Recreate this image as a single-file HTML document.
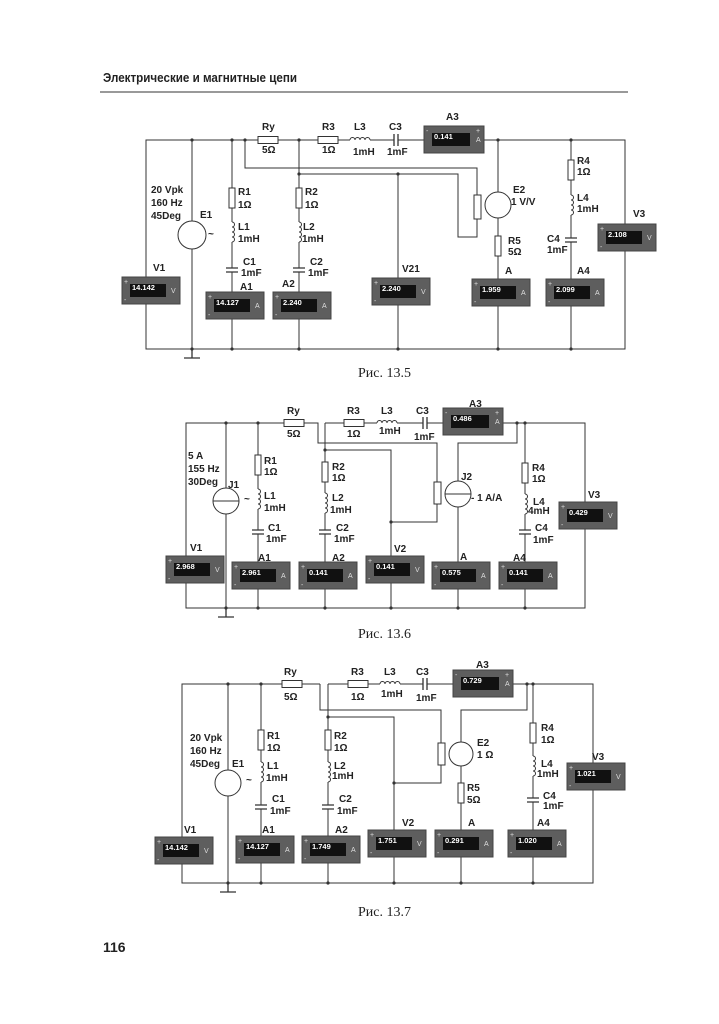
<!DOCTYPE html>
<html><head><meta charset="utf-8"><style>
html,body{margin:0;padding:0;background:#fff;}
svg{display:block;}
.w{fill:none;stroke:#333;stroke-width:1;}
.t{font-family:"Liberation Sans",sans-serif;font-weight:bold;font-size:10px;fill:#222;}
.m{font-family:"Liberation Sans",sans-serif;font-weight:bold;font-size:7.5px;fill:#fff;}
.s{font-family:"Liberation Sans",sans-serif;font-size:7px;fill:#ddd;}
.cap{font-family:"Liberation Serif",serif;font-size:14px;fill:#222;}
</style></head><body>
<svg width="719" height="1024" viewBox="0 0 719 1024" xmlns="http://www.w3.org/2000/svg">
<defs>
<g id="rv"><rect x="-3" y="-10" width="6" height="20" fill="#fff" stroke="#333"/></g>
<g id="rh"><rect x="-10" y="-3.5" width="20" height="7" fill="#fff" stroke="#333"/></g>
<g id="iv"><rect x="-3" y="-10" width="6" height="20" fill="#fff"/><path d="M0,-10 a2.5,2.5 0 0 1 0,5 a2.5,2.5 0 0 1 0,5 a2.5,2.5 0 0 1 0,5 a2.5,2.5 0 0 1 0,5" fill="none" stroke="#333"/></g>
<g id="ih"><rect x="-10" y="-3" width="20" height="6" fill="#fff"/><path d="M-10,0 a2.5,2.5 0 0 1 5,0 a2.5,2.5 0 0 1 5,0 a2.5,2.5 0 0 1 5,0 a2.5,2.5 0 0 1 5,0" fill="none" stroke="#333"/></g>
<g id="cv"><rect x="-6" y="-2" width="12" height="4" fill="#fff"/><path d="M-6,-2H6M-6,2H6" stroke="#333" stroke-width="1.3"/></g>
<g id="ch"><rect x="-2" y="-6" width="4" height="12" fill="#fff"/><path d="M-2,-6V6M2,-6V6" stroke="#333" stroke-width="1.3"/></g>
<g id="d"><circle r="1.6" fill="#333"/></g>
<g id="gnd"><path d="M0,0V9M-8,9H8" stroke="#333" stroke-width="1.3" fill="none"/></g>
<g id="mbV"><rect width="58" height="27" fill="#5e5e5e" stroke="#444"/><rect x="8" y="7" width="36" height="13" fill="#111"/><text class="s" x="2" y="7">+</text><text class="s" x="2" y="25">-</text><text class="s" x="49" y="16">V</text></g>
<g id="mbA"><rect width="58" height="27" fill="#5e5e5e" stroke="#444"/><rect x="8" y="7" width="36" height="13" fill="#111"/><text class="s" x="2" y="7">+</text><text class="s" x="2" y="25">-</text><text class="s" x="49" y="16">A</text></g>
<g id="mbA3"><rect width="60" height="27" fill="#5e5e5e" stroke="#444"/><rect x="8" y="7" width="38" height="13" fill="#111"/><text class="s" x="2" y="7">-</text><text class="s" x="52" y="7">+</text><text class="s" x="52" y="16">A</text></g>
</defs>

<text x="103" y="82" font-family="Liberation Sans,sans-serif" font-weight="bold" font-size="13" textLength="194" lengthAdjust="spacingAndGlyphs" fill="#222">Электрические и магнитные цепи</text>
<line x1="100" y1="92" x2="628" y2="92" stroke="#333"/>

<!-- ============ Circuit 1 ============ -->
<path class="w" d="M146,140H625V349H146Z"/>
<path class="w" d="M192,140V349M232,140V349M299,140V349M498,140V349M571,140V349M398,174V349"/>
<path class="w" d="M245,140V168H477V195M477,219V237H458V174H299"/>
<rect x="474" y="195" width="7" height="24" fill="#fff" stroke="#333"/>
<circle cx="192" cy="235" r="14" fill="#fff" stroke="#333"/>
<use href="#rv" x="232" y="198"/><use href="#iv" x="232" y="232"/><use href="#cv" x="232" y="270"/>
<use href="#rv" x="299" y="198"/><use href="#iv" x="299" y="232"/><use href="#cv" x="299" y="270"/>
<use href="#rh" x="268" y="140"/><use href="#rh" x="328" y="140"/><use href="#ih" x="360" y="140"/><use href="#ch" x="396" y="140"/>
<circle cx="498" cy="205" r="13" fill="#fff" stroke="#333"/>
<use href="#rv" x="498" y="246"/>
<use href="#rv" x="571" y="170"/><use href="#iv" x="571" y="205"/><use href="#cv" x="571" y="240"/>
<use href="#d" x="192" y="140"/><use href="#d" x="232" y="140"/><use href="#d" x="245" y="140"/><use href="#d" x="299" y="140"/><use href="#d" x="498" y="140"/><use href="#d" x="571" y="140"/>
<use href="#d" x="299" y="174"/><use href="#d" x="398" y="174"/>
<use href="#d" x="192" y="349"/><use href="#d" x="232" y="349"/><use href="#d" x="299" y="349"/><use href="#d" x="398" y="349"/><use href="#d" x="498" y="349"/><use href="#d" x="571" y="349"/>
<use href="#gnd" x="192" y="349"/>
<text class="t" x="262" y="130">Ry</text><text class="t" x="262" y="153">5Ω</text>
<text class="t" x="322" y="130">R3</text><text class="t" x="322" y="153">1Ω</text>
<text class="t" x="354" y="130">L3</text><text class="t" x="353" y="155">1mH</text>
<text class="t" x="389" y="130">C3</text><text class="t" x="387" y="155">1mF</text>
<text class="t" x="446" y="120">A3</text>
<text class="t" x="151" y="193">20 Vpk</text><text class="t" x="151" y="206">160 Hz</text><text class="t" x="151" y="219">45Deg</text>
<text class="t" x="200" y="218">E1</text><text class="t" x="208" y="237">~</text>
<text class="t" x="238" y="195">R1</text><text class="t" x="238" y="208">1Ω</text>
<text class="t" x="238" y="230">L1</text><text class="t" x="238" y="242">1mH</text>
<text class="t" x="243" y="265">C1</text><text class="t" x="241" y="276">1mF</text>
<text class="t" x="240" y="290">A1</text>
<text class="t" x="305" y="195">R2</text><text class="t" x="305" y="208">1Ω</text>
<text class="t" x="303" y="230">L2</text><text class="t" x="302" y="242">1mH</text>
<text class="t" x="310" y="265">C2</text><text class="t" x="308" y="276">1mF</text>
<text class="t" x="282" y="287">A2</text>
<text class="t" x="402" y="272">V21</text>
<text class="t" x="513" y="193">E2</text><text class="t" x="511" y="205">1 V/V</text>
<text class="t" x="508" y="244">R5</text><text class="t" x="508" y="255">5Ω</text>
<text class="t" x="505" y="274">A</text>
<text class="t" x="577" y="164">R4</text><text class="t" x="577" y="175">1Ω</text>
<text class="t" x="577" y="201">L4</text><text class="t" x="577" y="212">1mH</text>
<text class="t" x="547" y="242">C4</text><text class="t" x="547" y="253">1mF</text>
<text class="t" x="577" y="274">A4</text>
<text class="t" x="633" y="217">V3</text>
<text class="t" x="153" y="271">V1</text>
<use href="#mbV" x="122" y="277"/><text class="m" x="132" y="290">14.142</text>
<use href="#mbA" x="206" y="292"/><text class="m" x="216" y="305">14.127</text>
<use href="#mbA" x="273" y="292"/><text class="m" x="283" y="305">2.240</text>
<use href="#mbV" x="372" y="278"/><text class="m" x="382" y="291">2.240</text>
<use href="#mbA" x="472" y="279"/><text class="m" x="482" y="292">1.959</text>
<use href="#mbA" x="546" y="279"/><text class="m" x="556" y="292">2.099</text>
<use href="#mbV" x="598" y="224"/><text class="m" x="608" y="237">2.108</text>
<use href="#mbA3" x="424" y="126"/><text class="m" x="434" y="139">0.141</text>
<text class="cap" x="358" y="377">Рис. 13.5</text>

<!-- ============ Circuit 2 ============ -->
<path class="w" d="M312,423H186V608H585V423H325"/>
<path class="w" d="M226,423V608M258,423V608M325,423V608M525,423V608M325,450H391V608"/>
<path class="w" d="M312,423H318V443H437V482M437,504V522H391"/>
<path class="w" d="M517,423V443H458V608"/>
<rect x="434" y="482" width="7" height="22" fill="#fff" stroke="#333"/>
<circle cx="226" cy="501" r="13" fill="#fff" stroke="#333"/><line x1="213" y1="501" x2="239" y2="501" stroke="#333"/>
<circle cx="458" cy="494" r="13" fill="#fff" stroke="#333"/><line x1="445" y1="494" x2="471" y2="494" stroke="#333"/>
<use href="#rh" x="294" y="423"/>
<use href="#rv" x="258" y="465"/><use href="#iv" x="258" y="499"/><use href="#cv" x="258" y="532"/>
<use href="#rv" x="325" y="472"/><use href="#iv" x="325" y="503"/><use href="#cv" x="325" y="532"/>
<use href="#rh" x="354" y="423"/><use href="#ih" x="387" y="423"/><use href="#ch" x="425" y="423"/>
<use href="#rv" x="525" y="473"/><use href="#iv" x="525" y="504"/><use href="#cv" x="525" y="532"/>
<use href="#d" x="226" y="423"/><use href="#d" x="258" y="423"/><use href="#d" x="517" y="423"/><use href="#d" x="525" y="423"/><use href="#d" x="325" y="450"/><use href="#d" x="391" y="522"/>
<use href="#d" x="226" y="608"/><use href="#d" x="258" y="608"/><use href="#d" x="325" y="608"/><use href="#d" x="391" y="608"/><use href="#d" x="458" y="608"/><use href="#d" x="525" y="608"/>
<use href="#gnd" x="226" y="608"/>
<text class="t" x="287" y="414">Ry</text><text class="t" x="287" y="437">5Ω</text>
<text class="t" x="347" y="414">R3</text><text class="t" x="347" y="437">1Ω</text>
<text class="t" x="381" y="414">L3</text><text class="t" x="379" y="434">1mH</text>
<text class="t" x="416" y="414">C3</text><text class="t" x="414" y="440">1mF</text>
<text class="t" x="469" y="407">A3</text>
<text class="t" x="188" y="459">5 A</text><text class="t" x="188" y="472">155 Hz</text><text class="t" x="188" y="485">30Deg</text>
<text class="t" x="228" y="488">J1</text><text class="t" x="244" y="502">~</text>
<text class="t" x="264" y="464">R1</text><text class="t" x="264" y="475">1Ω</text>
<text class="t" x="264" y="499">L1</text><text class="t" x="264" y="511">1mH</text>
<text class="t" x="268" y="531">C1</text><text class="t" x="266" y="542">1mF</text>
<text class="t" x="258" y="561">A1</text>
<text class="t" x="332" y="470">R2</text><text class="t" x="332" y="481">1Ω</text>
<text class="t" x="332" y="501">L2</text><text class="t" x="330" y="513">1mH</text>
<text class="t" x="336" y="531">C2</text><text class="t" x="334" y="542">1mF</text>
<text class="t" x="332" y="561">A2</text>
<text class="t" x="394" y="552">V2</text>
<text class="t" x="461" y="480">J2</text><text class="t" x="471" y="501">- 1 A/A</text>
<text class="t" x="460" y="560">A</text>
<text class="t" x="532" y="471">R4</text><text class="t" x="532" y="482">1Ω</text>
<text class="t" x="533" y="505">L4</text><text class="t" x="528" y="514">4mH</text>
<text class="t" x="535" y="531">C4</text><text class="t" x="533" y="543">1mF</text>
<text class="t" x="513" y="561">A4</text>
<text class="t" x="588" y="498">V3</text>
<text class="t" x="190" y="551">V1</text>
<use href="#mbV" x="166" y="556"/><text class="m" x="176" y="569">2.968</text>
<use href="#mbA" x="232" y="562"/><text class="m" x="242" y="575">2.961</text>
<use href="#mbA" x="299" y="562"/><text class="m" x="309" y="575">0.141</text>
<use href="#mbV" x="366" y="556"/><text class="m" x="376" y="569">0.141</text>
<use href="#mbA" x="432" y="562"/><text class="m" x="442" y="575">0.575</text>
<use href="#mbA" x="499" y="562"/><text class="m" x="509" y="575">0.141</text>
<use href="#mbV" x="559" y="502"/><text class="m" x="569" y="515">0.429</text>
<use href="#mbA3" x="443" y="408"/><text class="m" x="453" y="421">0.486</text>
<text class="cap" x="358" y="638">Рис. 13.6</text>

<!-- ============ Circuit 3 ============ -->
<path class="w" d="M320,684H182V883H593V684H328"/>
<path class="w" d="M228,684V883M261,684V883M328,684V883M533,684V883M328,717H394V883"/>
<path class="w" d="M320,684V710H441V743M441,765V783H394"/>
<path class="w" d="M527,684V710H461V883"/>
<rect x="438" y="743" width="7" height="22" fill="#fff" stroke="#333"/>
<circle cx="228" cy="783" r="13" fill="#fff" stroke="#333"/>
<circle cx="461" cy="754" r="12" fill="#fff" stroke="#333"/>
<use href="#rh" x="292" y="684"/>
<use href="#rv" x="261" y="740"/><use href="#iv" x="261" y="772"/><use href="#cv" x="261" y="807"/>
<use href="#rv" x="328" y="740"/><use href="#iv" x="328" y="772"/><use href="#cv" x="328" y="807"/>
<use href="#rh" x="358" y="684"/><use href="#ih" x="390" y="684"/><use href="#ch" x="425" y="684"/>
<use href="#rv" x="461" y="793"/>
<use href="#rv" x="533" y="733"/><use href="#iv" x="533" y="766"/><use href="#cv" x="533" y="800"/>
<use href="#d" x="228" y="684"/><use href="#d" x="261" y="684"/><use href="#d" x="527" y="684"/><use href="#d" x="533" y="684"/><use href="#d" x="328" y="717"/><use href="#d" x="394" y="783"/>
<use href="#d" x="228" y="883"/><use href="#d" x="261" y="883"/><use href="#d" x="328" y="883"/><use href="#d" x="394" y="883"/><use href="#d" x="461" y="883"/><use href="#d" x="533" y="883"/>
<use href="#gnd" x="228" y="883"/>
<text class="t" x="284" y="675">Ry</text><text class="t" x="284" y="700">5Ω</text>
<text class="t" x="351" y="675">R3</text><text class="t" x="351" y="700">1Ω</text>
<text class="t" x="384" y="675">L3</text><text class="t" x="381" y="697">1mH</text>
<text class="t" x="416" y="675">C3</text><text class="t" x="416" y="701">1mF</text>
<text class="t" x="476" y="668">A3</text>
<text class="t" x="190" y="741">20 Vpk</text><text class="t" x="190" y="754">160 Hz</text><text class="t" x="190" y="767">45Deg</text>
<text class="t" x="232" y="767">E1</text><text class="t" x="246" y="783">~</text>
<text class="t" x="267" y="739">R1</text><text class="t" x="267" y="751">1Ω</text>
<text class="t" x="267" y="769">L1</text><text class="t" x="266" y="781">1mH</text>
<text class="t" x="272" y="802">C1</text><text class="t" x="270" y="814">1mF</text>
<text class="t" x="262" y="833">A1</text>
<text class="t" x="334" y="739">R2</text><text class="t" x="334" y="751">1Ω</text>
<text class="t" x="334" y="769">L2</text><text class="t" x="332" y="779">1mH</text>
<text class="t" x="339" y="802">C2</text><text class="t" x="337" y="814">1mF</text>
<text class="t" x="335" y="833">A2</text>
<text class="t" x="402" y="826">V2</text>
<text class="t" x="477" y="746">E2</text><text class="t" x="477" y="758">1 Ω</text>
<text class="t" x="467" y="791">R5</text><text class="t" x="467" y="803">5Ω</text>
<text class="t" x="468" y="826">A</text>
<text class="t" x="541" y="731">R4</text><text class="t" x="541" y="743">1Ω</text>
<text class="t" x="541" y="767">L4</text><text class="t" x="537" y="777">1mH</text>
<text class="t" x="543" y="799">C4</text><text class="t" x="543" y="809">1mF</text>
<text class="t" x="537" y="826">A4</text>
<text class="t" x="592" y="760">V3</text>
<text class="t" x="184" y="833">V1</text>
<use href="#mbV" x="155" y="837"/><text class="m" x="165" y="850">14.142</text>
<use href="#mbA" x="236" y="836"/><text class="m" x="246" y="849">14.127</text>
<use href="#mbA" x="302" y="836"/><text class="m" x="312" y="849">1.749</text>
<use href="#mbV" x="368" y="830"/><text class="m" x="378" y="843">1.751</text>
<use href="#mbA" x="435" y="830"/><text class="m" x="445" y="843">0.291</text>
<use href="#mbA" x="508" y="830"/><text class="m" x="518" y="843">1.020</text>
<use href="#mbV" x="567" y="763"/><text class="m" x="577" y="776">1.021</text>
<use href="#mbA3" x="453" y="670"/><text class="m" x="463" y="683">0.729</text>
<text class="cap" x="358" y="916">Рис. 13.7</text>

<text x="103" y="952" font-family="Liberation Sans,sans-serif" font-weight="bold" font-size="14" fill="#222">116</text>
</svg>
</body></html>
